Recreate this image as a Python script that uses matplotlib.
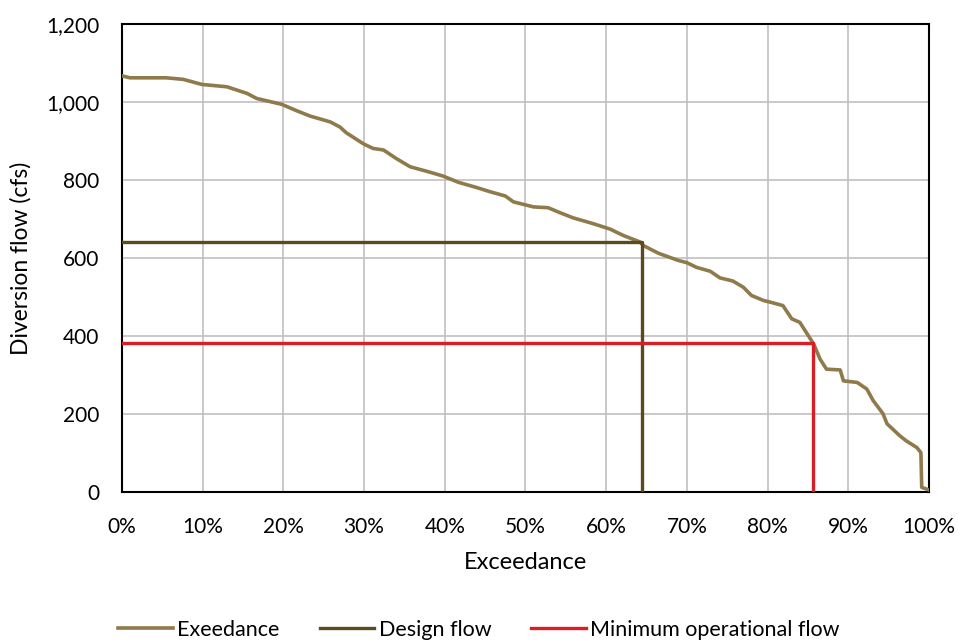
import matplotlib
matplotlib.use("Agg")
import matplotlib.pyplot as plt
from matplotlib.ticker import FuncFormatter, MultipleLocator

plt.rcParams['font.family'] = ['Lato', 'DejaVu Sans']

# Exceedance curve (fraction, cfs)
exc_x = [0.000, 0.010, 0.055, 0.076, 0.099, 0.130, 0.155, 0.167, 0.198, 0.216,
         0.233, 0.258, 0.270, 0.278, 0.299, 0.311, 0.324, 0.340, 0.357, 0.380,
         0.398, 0.417, 0.439, 0.456, 0.475, 0.485, 0.510, 0.528, 0.543, 0.559,
         0.584, 0.605, 0.621, 0.642, 0.646, 0.665, 0.689, 0.700, 0.712, 0.729,
         0.741, 0.757, 0.770, 0.780, 0.795, 0.803, 0.819, 0.830, 0.840, 0.844,
         0.857, 0.865, 0.873, 0.890, 0.894, 0.911, 0.923, 0.931, 0.943, 0.948,
         0.964, 0.972, 0.985, 0.990, 0.991, 0.999]
exc_y = [1067, 1062, 1062, 1058, 1045, 1039, 1022, 1009, 994, 978,
         964, 949, 936, 921, 893, 881, 877, 855, 834, 821,
         810, 794, 781, 770, 759, 744, 731, 729, 716, 703,
         688, 674, 658, 641, 632, 612, 594, 588, 576, 566,
         549, 541, 525, 504, 491, 487, 478, 444, 435, 422,
         380, 341, 315, 313, 285, 281, 264, 234, 201, 175,
         144, 131, 114, 101, 12, 6]

design_flow = 640
design_exc = 0.644
min_flow = 382
min_exc = 0.856

fig = plt.figure(figsize=(9.58, 6.43), dpi=100)
ax = fig.add_axes([0.1273, 0.2348, 0.8424, 0.7279])

ax.plot(exc_x, exc_y, color='#8F7A4B', lw=2.6, label='Exeedance', zorder=3, solid_joinstyle='round')
ax.plot([0, design_exc, design_exc], [design_flow, design_flow, 0], color='#5C4A1F', lw=2.4,
        label='Design flow', zorder=4)
ax.plot([0, min_exc, min_exc], [min_flow, min_flow, 0], color='#D91E27', lw=2.4,
        label='Minimum operational flow', zorder=4)

ax.set_xlim(0, 1)
ax.set_ylim(0, 1200)
ax.xaxis.set_major_locator(MultipleLocator(0.1))
ax.yaxis.set_major_locator(MultipleLocator(200))
ax.xaxis.set_major_formatter(FuncFormatter(lambda v, p: f"{v*100:.0f}%"))
ax.yaxis.set_major_formatter(FuncFormatter(lambda v, p: f"{v:,.0f}"))
ax.grid(True, color='#C0C0C0', lw=1.2)
ax.set_axisbelow(True)
for s in ax.spines.values():
    s.set_color('black')
    s.set_linewidth(1.5)
ax.tick_params(length=0, labelsize=15)
ax.tick_params(axis='x', pad=18)
ax.tick_params(axis='y', pad=16.5)
ax.set_xlabel('Exceedance', fontsize=17, labelpad=11)
ax.set_ylabel('Diversion flow (cfs)', fontsize=16.5, labelpad=10)

fig.legend(loc='center', bbox_to_anchor=(0.5, 13 / 643), ncol=3, frameon=False,
           fontsize=15.5, handlelength=2.55, handletextpad=0.2, columnspacing=1.85,
           borderpad=0.0)

fig.savefig('out.png', dpi=100)
